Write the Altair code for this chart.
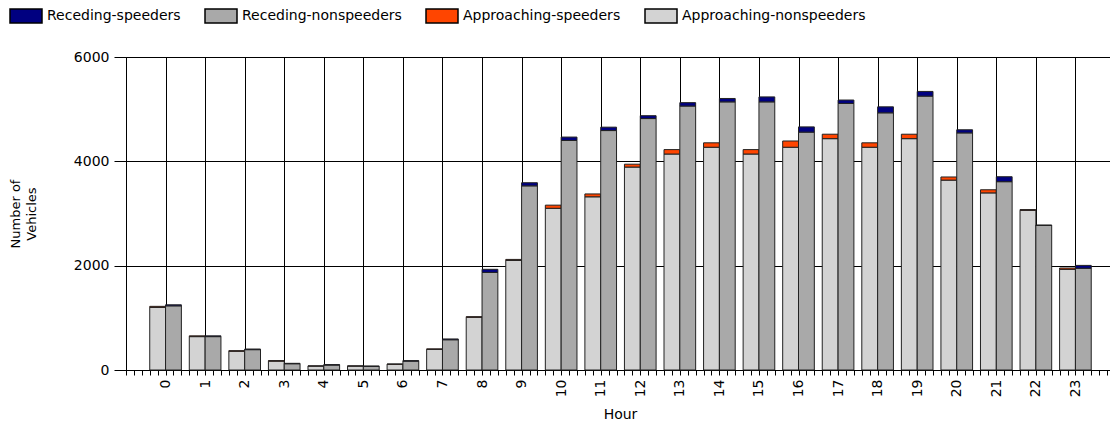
import altair as alt
import pandas as pd

hours = list(range(24))
series_names = ["Receding-speeders", "Receding-nonspeeders", "Approaching-speeders", "Approaching-nonspeeders"]
series_colors = ["#000080", "#A9A9A9", "#FF4500", "#D3D3D3"]

approach_non = [1200, 640, 360, 170, 75, 75, 110, 395, 1010, 2100, 3100, 3320, 3890, 4140, 4270, 4140,
                4270, 4435, 4270, 4435, 3640, 3395, 3060, 1930]
approach_spd = [20, 15, 10, 10, 3, 3, 5, 10, 12, 20, 60, 55, 55, 85, 85, 85,
                120, 85, 85, 85, 60, 60, 15, 25]
recede_non = [1230, 640, 390, 120, 95, 70, 170, 580, 1870, 3530, 4400, 4590, 4820, 5060, 5140, 5140,
              4560, 5110, 4930, 5250, 4545, 3610, 2770, 1950]
recede_spd = [20, 15, 12, 8, 8, 5, 10, 15, 60, 60, 65, 65, 55, 65, 65, 95,
              100, 65, 115, 90, 60, 95, 10, 55]

y_ticks = [0, 2000, 4000, 6000]
x_ticks = [round(-1 + 0.2 * k, 1) for k in range(125)]

rows = []
for i, h in enumerate(hours):
    rows.append({"hour": h, "dir": "A", "series": "Approaching-nonspeeders", "value": approach_non[i], "ord": 0})
    rows.append({"hour": h, "dir": "A", "series": "Approaching-speeders", "value": approach_spd[i], "ord": 1})
    rows.append({"hour": h, "dir": "R", "series": "Receding-nonspeeders", "value": recede_non[i], "ord": 0})
    rows.append({"hour": h, "dir": "R", "series": "Receding-speeders", "value": recede_spd[i], "ord": 1})
df = pd.DataFrame(rows)

is_int = "abs(datum.value - round(datum.value)) < 0.001 && datum.value > -0.5 && datum.value < 23.5"

chart = alt.Chart(df).transform_stack(
    stack="value", groupby=["hour", "dir"], sort=[alt.SortField("ord")], as_=["y0", "y1"]
).transform_calculate(
    xs="datum.dir == 'A' ? datum.hour - 0.4 : datum.hour",
    xe="datum.dir == 'A' ? datum.hour : datum.hour + 0.4",
).mark_bar(stroke="#222", strokeWidth=1, opacity=1).encode(
    x=alt.X("xs:Q", scale=alt.Scale(domain=[-1, 23.874], nice=False, zero=False),
            axis=alt.Axis(values=x_ticks, title="Hour", grid=True,
                          gridColor="#000", gridWidth=1,
                          gridOpacity={"condition": {"test": is_int, "value": 1}, "value": 0},
                          labelExpr="(" + is_int + ") ? format(round(datum.value), 'd') : ''",
                          labelAngle=270, labelAlign="right", labelBaseline="middle",
                          labelPadding=4, labelFontSize=14, labelColor="#000",
                          labelOverlap=False, labelFlush=False, labelBound=False,
                          tickSize=5, tickColor="#000", domainColor="#000",
                          titleFontSize=14, titleFontWeight="normal", titleColor="#000",
                          titleX=494, titleY=48, titleBaseline="alphabetic", titleAlign="center")),
    x2="xe:Q",
    y=alt.Y("y0:Q", scale=alt.Scale(domain=[0, 6000], nice=False),
            axis=alt.Axis(values=y_ticks, format="d", title=["Number of", "Vehicles"], grid=True,
                          gridColor="#000", gridWidth=1, gridOpacity=1,
                          tickSize=12, tickColor="#000", domainColor="#000",
                          labelFontSize=14, labelColor="#000", labelPadding=5,
                          titleFontSize=13, titleFontWeight="normal", titleColor="#000",
                          titleAngle=270, titleX=-111, titleY=156.5, titleAlign="center",
                          titleBaseline="middle", titleLineHeight=16)),
    y2="y1:Q",
    color=alt.Color("series:N", scale=alt.Scale(domain=series_names, range=series_colors),
                    legend=alt.Legend(title=None, orient="none", direction="horizontal",
                                      legendX=-117, legendY=-58, columnPadding=21,
                                      labelFontSize=14, labelColor="#000", labelOffset=4,
                                      labelLimit=400,
                                      symbolType="M-1,-0.4375H1V0.4375H-1Z", symbolSize=1024,
                                      symbolStrokeColor="#000", symbolStrokeWidth=1.5,
                                      symbolOpacity=1)),
).properties(
    width=984, height=313,
    autosize=alt.AutoSizeParams(type="none"),
    padding={"left": 118, "top": 49, "right": 0, "bottom": 50},
).configure(
    font="DejaVu Sans",
).configure_view(
    stroke="#000", strokeWidth=1,
)

chart.save("out.html", embed_options={"renderer": "svg", "actions": False})
